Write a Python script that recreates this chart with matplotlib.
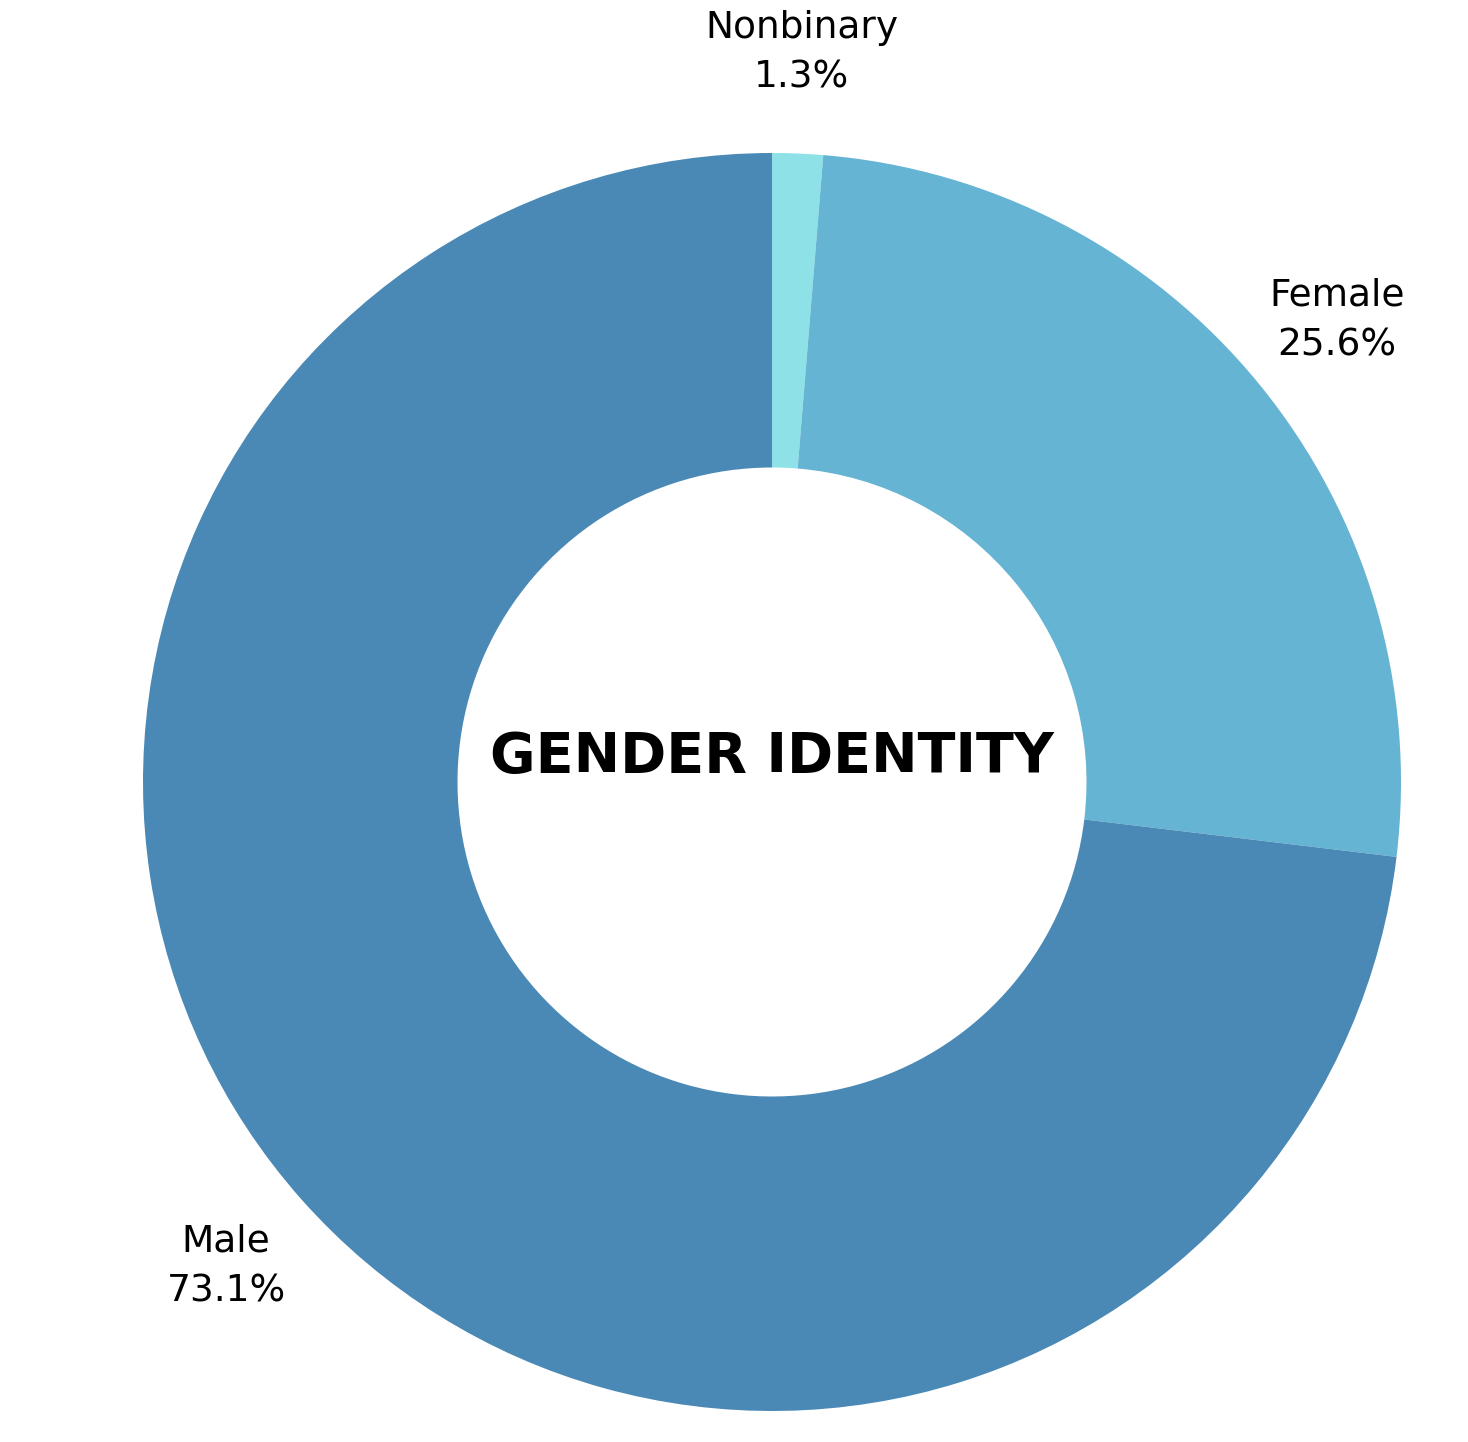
import matplotlib.pyplot as plt

labels = ["Nonbinary", "Female", "Male"]
shares = [1.3, 25.6, 73.1]
colors = ["#8ee1e6", "#65b4d3", "#4a89b5"]

plt.rcParams["font.family"] = ["Liberation Sans Narrow", "DejaVu Sans"]

fig = plt.figure(figsize=(14.68, 14.42), dpi=100)
ax = fig.add_axes([0, 0, 1, 1])

texts = [f"{n}\n{v:.1f}%" for n, v in zip(labels, shares)]
wedges, lbls = ax.pie(
    shares,
    labels=texts,
    colors=colors,
    startangle=90,
    counterclock=False,
    labeldistance=1.16,
    wedgeprops=dict(width=0.5, linewidth=0),
    textprops=dict(fontsize=27, linespacing=1.5),
)
for t in lbls:
    t.set_ha("center")
    t.set_va("center")

ax.text(0, 0.04, "GENDER IDENTITY", ha="center", va="center",
        fontsize=40, fontweight="bold")

r = 629.0
ax.set_xlim(-772 / r, (1468 - 772) / r)
ax.set_ylim(-660 / r, (1442 - 660) / r)
ax.set_aspect("equal")
ax.axis("off")

fig.savefig("out.png", dpi=100)
